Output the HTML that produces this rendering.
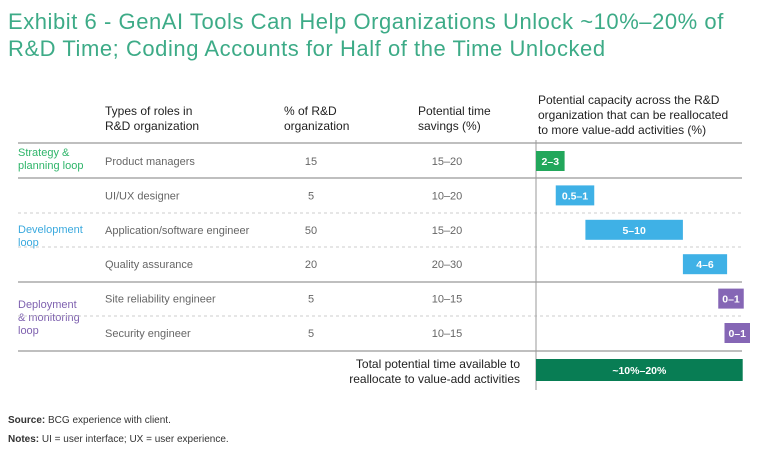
<!DOCTYPE html>
<html><head><meta charset="utf-8"><style>
body{margin:0;width:768px;height:463px;background:#fff;font-family:"Liberation Sans",sans-serif;position:relative;overflow:hidden}
.t{position:absolute;white-space:nowrap}
.title{left:8px;font-size:22px;color:#3dab87;letter-spacing:0.55px}
.hd{font-size:12px;color:#222;line-height:15px}
.grp{font-size:11px;line-height:13px}
.ft{font-size:10px;color:#333}
</style></head><body>
<div class="t title" style="top:9px">Exhibit 6 - GenAI Tools Can Help Organizations Unlock ~10%–20% of</div>
<div class="t title" style="top:36px">R&amp;D Time; Coding Accounts for Half of the Time Unlocked</div>

<div class="t hd" style="left:105px;top:104px">Types of roles in<br>R&amp;D organization</div>
<div class="t hd" style="left:284px;top:104px">% of R&amp;D<br>organization</div>
<div class="t hd" style="left:418px;top:104px">Potential time<br>savings (%)</div>
<div class="t hd" style="left:538px;top:93px">Potential capacity across the R&amp;D<br>organization that can be reallocated<br>to more value-add activities (%)</div>

<div class="t grp" style="left:18px;top:147px;color:#2fb56a">Strategy &amp;<br>planning loop</div>
<div class="t grp" style="left:18px;top:224px;color:#3aa9de">Development<br>loop</div>
<div class="t grp" style="left:18px;top:299px;color:#7f62b0">Deployment<br>&amp; monitoring<br>loop</div>

<div class="t" style="left:330px;top:357px;width:190px;text-align:right;font-size:12px;line-height:15px;color:#222">Total potential time available to<br>reallocate to value-add activities</div>

<div class="t ft" style="left:8px;top:415px"><b>Source:</b> BCG experience with client.</div>
<div class="t ft" style="left:8px;top:434px"><b>Notes:</b> UI = user interface; UX = user experience.</div>

<svg id="chart" width="768" height="463" style="position:absolute;left:0;top:0" font-family="Liberation Sans, sans-serif"></svg>
<script>
const roles=["Product managers","UI/UX designer","Application/software engineer","Quality assurance","Site reliability engineer","Security engineer"];
const shares=["15","5","50","20","5","5"];
const savings=["15–20","10–20","15–20","20–30","10–15","10–15"];
const capacityLabels=["2–3","0.5–1","5–10","4–6","0–1","0–1"];
const barValues=[2.2,1.6,7.5,3.4,0.6,0.6];
const totalLabel="~10%–20%";
const colors=["#22a75b","#3fb1e6","#3fb1e6","#3fb1e6","#8566b5","#8566b5"];
const svg=document.getElementById('chart');const NS='http://www.w3.org/2000/svg';
function el(t,a){const e=document.createElementNS(NS,t);for(const k in a)e.setAttribute(k,a[k]);svg.appendChild(e);return e;}
const x0=536,sc=13,rowY=i=>161+i*34.4;
const x=v=>x0+v*sc;
[[143,0],[178,0],[282,0],[351,0],[213,1],[247,1],[316,1]].forEach(([y,d],i)=>{
 const l=el('line',{x1:18,x2:742,y1:y,y2:y,stroke:d?'#ccc':'#999','stroke-width':d?1:1.3,'stroke-dasharray':d?'3,3':'none'});
 
 
});
const ax=el('line',{x1:x0,x2:x0,y1:140,y2:390,stroke:'#999','stroke-width':1});


let cum=0;
roles.forEach((r,i)=>{
 const y=rowY(i);
 const t1=el('text',{x:105,y:y+4,'font-size':11,fill:'#666'});t1.textContent=r;
 
 
 const t2=el('text',{x:311,y:y+4,'font-size':11,fill:'#666','text-anchor':'middle'});t2.textContent=shares[i];
 
 
 const t3=el('text',{x:447,y:y+4,'font-size':11,fill:'#666','text-anchor':'middle'});t3.textContent=savings[i];
 
 
 const xa=x(cum),xb=x(cum+barValues[i]);cum+=barValues[i];
 const w=xb-xa;const lw=capacityLabels[i].length*6.5+6;
 let bx=xa,bw=w;
 if(w<lw){const c=(xa+xb)/2;bw=lw;bx=c-lw/2;if(bx+bw>750)bx=750-bw;}
 const b=el('rect',{x:bx,y:y-10,width:bw,height:20,fill:colors[i]});
 
 
 const bl=el('text',{x:bx+bw/2,y:y+4,'font-size':10.5,'font-weight':'bold',fill:'#fff','text-anchor':'middle'});bl.textContent=capacityLabels[i];
 
 
});
const tb=el('rect',{x:x0,y:359,width:x(cum)-x0,height:22,fill:'#087d54'});


const tl=el('text',{x:(x0+x(cum))/2,y:374,'font-size':10.5,'font-weight':'bold',fill:'#fff','text-anchor':'middle'});tl.textContent=totalLabel;


</script>
</body></html>
